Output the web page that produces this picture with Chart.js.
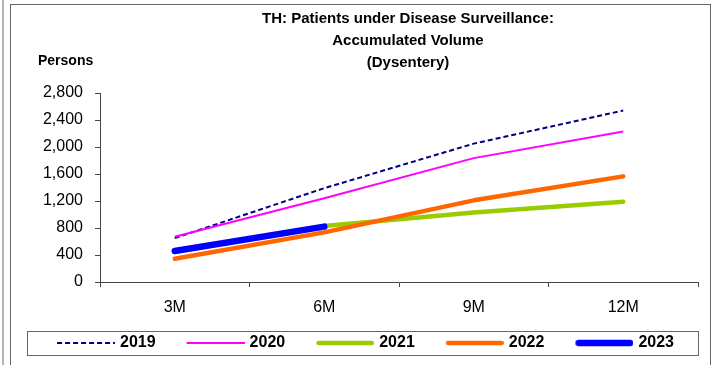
<!DOCTYPE html>
<html>
<head>
<meta charset="utf-8">
<script src="https://cdn.jsdelivr.net/npm/chart.js@4/dist/chart.umd.min.js"></script>
<style>
    body {
        margin: 0;
        width: 712px;
        height: 365px;
        overflow: hidden;
        background: #fff;
        font-family: "Liberation Sans", Arial, sans-serif;
    }
    .sideLine {
        position: absolute;
        left: 2px;
        top: 0;
        width: 2px;
        height: 365px;
        background: #b4b4b4;
    }
    .frame {
        position: absolute;
        left: 10px;
        top: 4px;
        width: 699px;
        height: 400px;
        border: 1px solid #666;
    }
    .title {
        position: absolute;
        left: 208px;
        top: 7px;
        width: 400px;
        text-align: center;
        font-weight: bold;
        font-size: 15px;
        line-height: 22px;
        color: #000;
    }
    .unit {
        position: absolute;
        left: 38px;
        top: 52px;
        font-weight: bold;
        font-size: 14px;
        color: #000;
    }
    #chartBox {
        position: absolute;
        left: 11px;
        top: 6px;
        width: 698px;
        height: 359px;
    }
</style>
</head>
<body>
<div class="sideLine"></div>
<div class="frame"></div>
<div id="chartBox"><canvas id="volumeChart" width="698" height="359"></canvas></div>
<div class="title">TH: Patients under Disease Surveillance:<br>Accumulated Volume<br>(Dysentery)</div>
<div class="unit">Persons</div>

<script>
// accumulated patients per quarter
const categories = ['3M', '6M', '9M', '12M'];
const years = ['2019', '2020', '2021', '2022', '2023'];
const values2019 = [650, 1390, 2050, 2540];
const values2020 = [670, 1240, 1835, 2230];
const values2021 = [460, 830, 1030, 1190];
const values2022 = [345, 735, 1210, 1565];
const values2023 = [460, 820];
const yTicks = [0, 400, 800, 1200, 1600, 2000, 2400, 2800];

const seriesValues = [values2019, values2020, values2021, values2022, values2023];
const seriesColors = ['#000080', '#ff00ff', '#99cc00', '#ff6600', '#0000ff'];
const seriesWidths = [2, 2, 4.5, 4.5, 6.5];
const seriesDash = [[5, 3], [], [], [], []];
// later years are drawn on top
const seriesOrder = [4, 3, 2, 1, 0];

const axisColor = '#444';
const fontFamily = '"Liberation Sans", Arial, sans-serif';

// little line samples used as legend symbols
function makeSample(i) {
    let c = document.createElement('canvas');
    c.width = 74;
    c.height = 10;
    let g = c.getContext('2d');
    let w = seriesWidths[i];
    g.strokeStyle = seriesColors[i];
    g.lineWidth = w;
    g.setLineDash(seriesDash[i]);
    g.lineCap = i < 2 ? 'butt' : 'round';
    let pad = i < 2 ? 0 : w / 2;
    g.beginPath();
    g.moveTo(16 + pad, 5);
    g.lineTo(74 - pad, 5);
    g.stroke();
    return c;
}
const legendSamples = years.map((y, i) => makeSample(i));

// box around the legend row
const legendFrame = {
    id: 'legendFrame',
    afterDraw(chart) {
        let ctx = chart.ctx;
        let hit = chart.legend.legendHitBoxes[0];
        let cy = hit.top + hit.height / 2;
        ctx.save();
        ctx.strokeStyle = '#666';
        ctx.lineWidth = 1;
        ctx.strokeRect(16.5, Math.round(cy - 12) + 0.5, chart.width - 27, 24);
        ctx.restore();
    }
};

let datasets = years.map((year, i) => ({
    label: year,
    data: seriesValues[i],
    borderColor: seriesColors[i],
    backgroundColor: seriesColors[i],
    borderWidth: seriesWidths[i],
    borderDash: seriesDash[i],
    borderCapStyle: i < 2 ? 'butt' : 'round',
    borderJoinStyle: 'round',
    pointRadius: 0,
    tension: 0,
    order: seriesOrder[i]
}));

let ctx = document.getElementById('volumeChart').getContext('2d');
let volumeChart = new Chart(ctx, {
    type: 'line',
    data: {
        labels: categories,
        datasets: datasets
    },
    options: {
        responsive: false,
        animation: false,
        devicePixelRatio: 1,
        layout: {
            padding: { top: 87, right: 11, bottom: 4, left: 9 }
        },
        plugins: {
            title: { display: false },
            tooltip: { enabled: false },
            legend: {
                position: 'bottom',
                labels: {
                    usePointStyle: true,
                    pointStyleWidth: 68,
                    boxHeight: 16,
                    padding: 18,
                    color: '#000',
                    font: { family: fontFamily, size: 16, weight: 'bold' },
                    generateLabels: chart => {
                        let items = Chart.defaults.plugins.legend.labels.generateLabels(chart);
                        items.forEach(item => { item.pointStyle = legendSamples[item.datasetIndex]; });
                        return items;
                    },
                    sort: (a, b) => a.datasetIndex - b.datasetIndex
                }
            }
        },
        scales: {
            x: {
                offset: true,
                afterFit: scale => { scale.height = 35; },
                grid: {
                    offset: true,
                    drawOnChartArea: false,
                    tickLength: 5,
                    color: axisColor
                },
                border: { color: axisColor, width: 1 },
                ticks: {
                    color: '#000',
                    padding: 11,
                    font: { family: fontFamily, size: 16 }
                }
            },
            y: {
                min: 0,
                max: 2800,
                afterFit: scale => { scale.width = 80; },
                afterBuildTicks: scale => {
                    scale.ticks = yTicks.map(v => ({ value: v }));
                },
                grid: {
                    drawOnChartArea: false,
                    tickLength: 5,
                    color: axisColor
                },
                border: { color: axisColor, width: 1 },
                ticks: {
                    color: '#000',
                    padding: 12,
                    font: { family: fontFamily, size: 16 },
                    callback: v => v.toLocaleString('en-US')
                }
            }
        }
    },
    plugins: [legendFrame]
});
</script>
</body>
</html>
